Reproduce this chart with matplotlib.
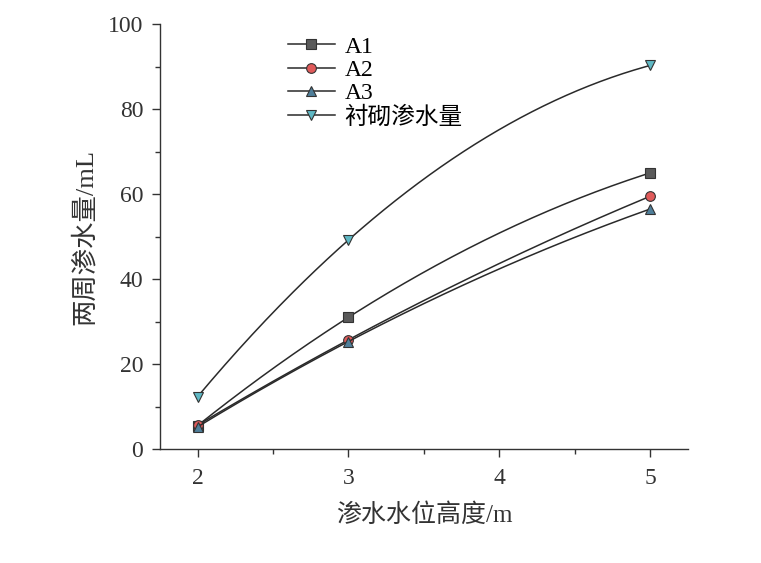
import numpy as np
import matplotlib.pyplot as plt

plt.rcParams['font.family'] = ['Liberation Serif', 'Noto Sans CJK SC']
plt.rcParams['axes.unicode_minus'] = False

# 数据
x = [2, 3, 5]
a1 = [5.5, 31.0, 65.0]
a2 = [5.6, 25.7, 59.5]
a3 = [5.2, 25.3, 56.5]
lining = [12.3, 49.2, 90.3]
labels = ['A1', 'A2', 'A3', '衬砌渗水量']
markers = ['s', 'o', '^', 'v']
colors = ['#5a5a5a', '#e05a5a', '#4f7f9a', '#5fb8c4']

fig = plt.figure(figsize=(7.61, 5.63), dpi=100)
ax = fig.add_axes([0.210, 0.2025, 0.694, 0.7545])

xs = np.linspace(2, 5, 200)
for ys, lab, m, c in zip([a1, a2, a3, lining], labels, markers, colors):
    # 平滑曲线 (过三点的二次插值)
    p = np.polyfit(x, ys, 2)
    ax.plot(xs, np.polyval(p, xs), color='#2a2a2a', linewidth=1.1)
    ax.plot(x, ys, linestyle='none', marker=m, markersize=7,
            markerfacecolor=c, markeredgecolor='#333333', markeredgewidth=0.8)
    ax.plot([], [], color='#2a2a2a', linewidth=1.1, marker=m, markersize=7,
            markerfacecolor=c, markeredgecolor='#333333', markeredgewidth=0.8,
            label=lab)

ax.set_xlim(1.75, 5.25)
ax.set_ylim(0, 100)
ax.set_xticks([2, 3, 4, 5])
ax.set_xticks([2.5, 3.5, 4.5], minor=True)
ax.set_yticks([0, 20, 40, 60, 80, 100])
ax.set_yticks([10, 30, 50, 70, 90], minor=True)

ax.spines['top'].set_visible(False)
ax.spines['right'].set_visible(False)
for s in ['left', 'bottom']:
    ax.spines[s].set_color('#333333')
    ax.spines[s].set_linewidth(1.0)

ax.tick_params(which='major', direction='out', length=6, width=1, labelsize=17,
               colors='#333333', pad=6)
ax.tick_params(axis='x', which='major', pad=8)
ax.tick_params(which='minor', direction='out', length=3.5, width=1, colors='#333333')

ax.set_xlabel('渗水水位高度/m', fontsize=18, color='#333333', labelpad=10)
ax.set_ylabel('两周渗水量/mL', fontsize=19, color='#333333', labelpad=8)

ax.legend(loc='upper left', bbox_to_anchor=(0.22, 1.0), frameon=False,
          fontsize=17, handlelength=2.0, labelspacing=0.08, handletextpad=0.4,
          borderaxespad=0.1)

fig.savefig('out.png', dpi=100)
